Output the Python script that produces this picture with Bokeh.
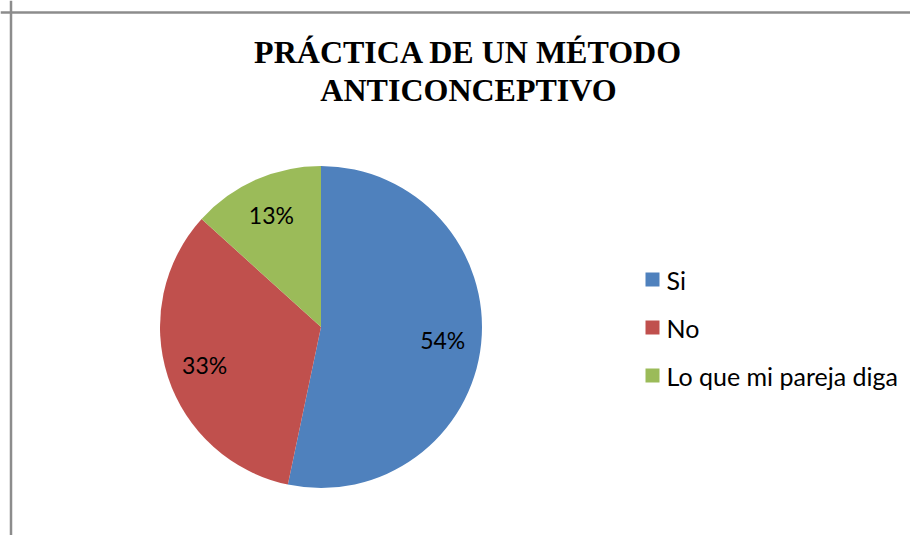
import math
from bokeh.plotting import figure
from bokeh.models import Range1d, Span, ColumnDataSource
from bokeh.core.properties import value
from bokeh.embed import file_html
from bokeh.resources import INLINE

# ---- data ----
categories = ["Si", "No", "Lo que mi pareja diga"]
shares = [53.3, 33.4, 13.3]          # slice sizes
labels = ["54%", "33%", "13%"]        # labels as printed on the chart
colors = ["#4F81BD", "#C0504D", "#9BBB59"]
title_lines = ["PRÁCTICA DE UN MÉTODO", "ANTICONCEPTIVO"]

W, H = 910, 535
PAGE_H = 535

def py(y):  # page y -> data y
    return PAGE_H - y

p = figure(width=W, height=H, output_backend="svg", toolbar_location=None,
           x_range=Range1d(0, W), y_range=Range1d(py(H), py(0)),
           min_border=0)
p.axis.visible = False
p.grid.visible = False
p.outline_line_color = None
p.background_fill_color = "white"
p.border_fill_color = "white"

# chart frame (left and top edges visible)
p.add_layout(Span(location=10.5, dimension="height", line_color="#8c8c8c", line_width=2.5))
p.add_layout(Span(location=py(12), dimension="width", line_color="#8c8c8c", line_width=2.5))

# pie
cx, cy, r = 320.5, py(326.5), 161
total = sum(shares)
starts, ends, lx, ly = [], [], [], []
cum = 0.0
for s in shares:
    a0 = math.pi / 2 - 2 * math.pi * cum / total
    cum += s
    a1 = math.pi / 2 - 2 * math.pi * cum / total
    starts.append(a0)
    ends.append(a1)
    mid = (a0 + a1) / 2
    lx.append(cx + 0.76 * r * math.cos(mid))
    ly.append(cy + 0.76 * r * math.sin(mid))

src = ColumnDataSource(dict(start=starts, end=ends, color=colors, lx=lx, ly=ly,
                            label=labels, cat=categories))
p.wedge(x=cx, y=cy, radius=r, start_angle="start", end_angle="end",
        direction="clock", fill_color="color", line_color=None, source=src)
p.text(x="lx", y="ly", text="label", source=src, text_font=value("Lato"),
       text_font_size="23px", text_color="#000000", text_align="center",
       text_baseline="middle")

# legend (manual)
leg_x = 652
leg_y = [py(279), py(327), py(375)]
lsrc = ColumnDataSource(dict(x=[leg_x] * 3, y=leg_y, color=colors, cat=categories,
                             tx=[leg_x + 14] * 3))
p.rect(x="x", y="y", width=14, height=14, fill_color="color", line_color=None, source=lsrc)
p.text(x="tx", y="y", text="cat", source=lsrc, text_font=value("Lato"),
       text_font_size="25px", text_color="#000000", text_align="left",
       text_baseline="middle")

# title
p.text(x=[468, 468], y=[py(51), py(89)], text=title_lines,
       text_font=value("Liberation Serif"), text_font_style="bold",
       text_font_size="32px", text_color="#000000", text_align="center",
       text_baseline="middle")

open("out.html", "w").write(file_html(p, INLINE))
